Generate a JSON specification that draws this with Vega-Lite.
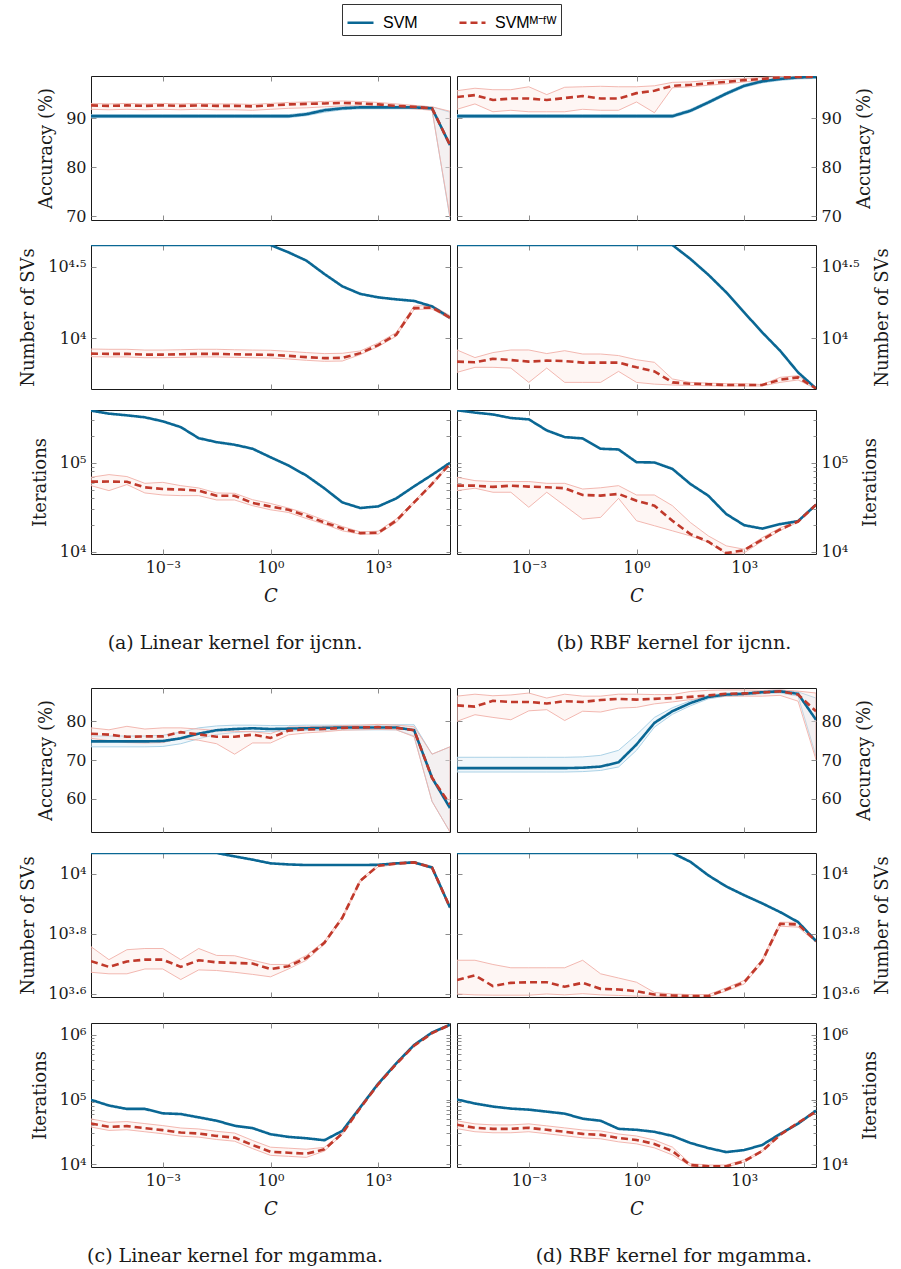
{
"$schema":"https://vega.github.io/schema/vega-lite/v6.json",
"padding":{"left":19,"top":3,"right":5,"bottom":5},
"background":"white",
"spacing":34,
"config":{
 "font":"DejaVu Serif",
 "view":{"stroke":"#1a1a1a","strokeWidth":1},
 "axis":{"domain":false,"grid":false,"tickColor":"#8c8c8c","tickWidth":1,"tickSize":-5,"labelFont":"DejaVu Serif","labelFontSize":16,"labelColor":"#1a1a1a","labelPadding":10,"titleFont":"DejaVu Serif","titleFontSize":18,"titleFontWeight":"normal","titleColor":"#1a1a1a","titlePadding":10},
 "axisX":{"titleFontStyle":"italic","titlePadding":12},
 "axisRight":{"titlePadding":14},
 "title":{"font":"DejaVu Serif","fontSize":19,"fontWeight":"normal","color":"#1a1a1a","anchor":"middle"},
 "legend":{"strokeColor":"#333","padding":4,"symbolType":"stroke","symbolSize":676,"symbolStrokeWidth":2.6,"labelFont":"Liberation Sans","labelFontSize":16,"labelColor":"#000","columnPadding":36,"labelOffset":8,"fillColor":"white"}
},
"datasets":{
"a_acc":[
{"C":1e-5,"sv":90.4,"sl":90.1,"sh":90.7,"fv":92.6,"fl":91.8,"fh":93.0},
{"C":3.1623e-5,"sv":90.4,"sl":90.1,"sh":90.7,"fv":92.5,"fl":91.7,"fh":92.9},
{"C":1e-4,"sv":90.4,"sl":90.1,"sh":90.7,"fv":92.6,"fl":91.8,"fh":93.0},
{"C":3.1623e-4,"sv":90.4,"sl":90.1,"sh":90.7,"fv":92.5,"fl":91.7,"fh":92.9},
{"C":0.001,"sv":90.4,"sl":90.1,"sh":90.7,"fv":92.6,"fl":91.8,"fh":93.0},
{"C":0.0031623,"sv":90.4,"sl":90.1,"sh":90.7,"fv":92.5,"fl":91.7,"fh":92.9},
{"C":0.01,"sv":90.4,"sl":90.1,"sh":90.7,"fv":92.6,"fl":91.8,"fh":93.0},
{"C":0.031623,"sv":90.4,"sl":90.1,"sh":90.7,"fv":92.5,"fl":91.7,"fh":92.9},
{"C":0.1,"sv":90.4,"sl":90.1,"sh":90.7,"fv":92.5,"fl":91.7,"fh":92.9},
{"C":0.31623,"sv":90.4,"sl":90.1,"sh":90.7,"fv":92.4,"fl":91.6,"fh":92.8},
{"C":1,"sv":90.4,"sl":90.1,"sh":90.7,"fv":92.6,"fl":91.8,"fh":93.0},
{"C":3.1623,"sv":90.4,"sl":90.1,"sh":90.7,"fv":92.8,"fl":92.0,"fh":93.2},
{"C":10,"sv":90.8,"sl":90.5,"sh":91.1,"fv":92.9,"fl":92.1,"fh":93.3},
{"C":31.623,"sv":91.6,"sl":91.2,"sh":91.9,"fv":93.0,"fl":92.3,"fh":93.4},
{"C":100,"sv":92.0,"sl":91.7,"sh":92.3,"fv":93.1,"fl":92.5,"fh":93.5},
{"C":316.23,"sv":92.2,"sl":91.9,"sh":92.5,"fv":93.0,"fl":92.5,"fh":93.4},
{"C":1000,"sv":92.2,"sl":91.9,"sh":92.5,"fv":92.8,"fl":92.4,"fh":93.2},
{"C":3162.3,"sv":92.2,"sl":91.9,"sh":92.5,"fv":92.5,"fl":92.1,"fh":92.9},
{"C":10000,"sv":92.2,"sl":91.9,"sh":92.5,"fv":92.3,"fl":91.9,"fh":92.6},
{"C":31623,"sv":92.0,"sl":91.7,"sh":92.3,"fv":92.0,"fl":91.6,"fh":92.3},
{"C":100000,"sv":84.5,"sl":69.5,"sh":91.2,"fv":84.5,"fl":69.8,"fh":91.4}],
"b_acc":[
{"C":1e-5,"sv":90.4,"sl":90.1,"sh":90.7,"fv":94.3,"fl":91.8,"fh":95.6},
{"C":3.1623e-5,"sv":90.4,"sl":90.1,"sh":90.7,"fv":94.7,"fl":92.9,"fh":96.1},
{"C":1e-4,"sv":90.4,"sl":90.1,"sh":90.7,"fv":93.7,"fl":91.3,"fh":95.8},
{"C":3.1623e-4,"sv":90.4,"sl":90.1,"sh":90.7,"fv":94.0,"fl":91.6,"fh":95.8},
{"C":0.001,"sv":90.4,"sl":90.1,"sh":90.7,"fv":94.0,"fl":91.3,"fh":96.4},
{"C":0.0031623,"sv":90.4,"sl":90.1,"sh":90.7,"fv":93.7,"fl":91.3,"fh":94.8},
{"C":0.01,"sv":90.4,"sl":90.1,"sh":90.7,"fv":94.1,"fl":91.3,"fh":96.3},
{"C":0.031623,"sv":90.4,"sl":90.1,"sh":90.7,"fv":94.5,"fl":91.8,"fh":96.4},
{"C":0.1,"sv":90.4,"sl":90.1,"sh":90.7,"fv":94.0,"fl":91.6,"fh":96.5},
{"C":0.31623,"sv":90.4,"sl":90.1,"sh":90.7,"fv":94.0,"fl":91.6,"fh":96.4},
{"C":1,"sv":90.4,"sl":90.1,"sh":90.7,"fv":95.1,"fl":93.3,"fh":96.4},
{"C":3.1623,"sv":90.4,"sl":90.1,"sh":90.7,"fv":95.6,"fl":91.1,"fh":96.6},
{"C":10,"sv":90.4,"sl":90.1,"sh":90.7,"fv":96.6,"fl":96.2,"fh":97.3},
{"C":31.623,"sv":91.5,"sl":91.2,"sh":91.8,"fv":96.8,"fl":96.4,"fh":97.4},
{"C":100,"sv":93.2,"sl":92.9,"sh":93.5,"fv":97.1,"fl":96.7,"fh":97.7},
{"C":316.23,"sv":95.0,"sl":94.7,"sh":95.3,"fv":97.4,"fl":97.0,"fh":97.9},
{"C":1000,"sv":96.6,"sl":96.3,"sh":96.9,"fv":97.75,"fl":97.4,"fh":98.1},
{"C":3162.3,"sv":97.5,"sl":97.2,"sh":97.8,"fv":98.0,"fl":97.7,"fh":98.3},
{"C":10000,"sv":98.0,"sl":97.7,"sh":98.3,"fv":98.3,"fl":98.1,"fh":98.5},
{"C":31623,"sv":98.3,"sl":98.0,"sh":98.6,"fv":98.4,"fl":98.2,"fh":98.6},
{"C":100000,"sv":98.4,"sl":98.1,"sh":98.7,"fv":98.45,"fl":98.3,"fh":98.6}],
"a_sv":[
{"C":1e-5,"sv":44770,"fv":7834,"fl":7450,"fh":8430},
{"C":3.1623e-5,"sv":44770,"fv":7798,"fl":7420,"fh":8390},
{"C":1e-4,"sv":44770,"fv":7798,"fl":7420,"fh":8390},
{"C":3.1623e-4,"sv":44770,"fv":7709,"fl":7330,"fh":8290},
{"C":0.001,"sv":44770,"fv":7709,"fl":7330,"fh":8290},
{"C":0.0031623,"sv":44770,"fv":7745,"fl":7370,"fh":8330},
{"C":0.01,"sv":44770,"fv":7798,"fl":7420,"fh":8390},
{"C":0.031623,"sv":44770,"fv":7798,"fl":7420,"fh":8390},
{"C":0.1,"sv":44770,"fv":7745,"fl":7370,"fh":8330},
{"C":0.31623,"sv":44770,"fv":7709,"fl":7330,"fh":8290},
{"C":1,"sv":44770,"fv":7674,"fl":7300,"fh":8260},
{"C":3.1623,"sv":39810,"fv":7551,"fl":7180,"fh":8120},
{"C":10,"sv":34830,"fv":7396,"fl":7030,"fh":7960},
{"C":31.623,"sv":28120,"fv":7278,"fl":6920,"fh":7830},
{"C":100,"sv":23070,"fv":7311,"fl":6950,"fh":7870},
{"C":316.23,"sv":20420,"fv":7889,"fl":7710,"fh":8170},
{"C":1000,"sv":19320,"fv":8974,"fl":8770,"fh":9290},
{"C":3162.3,"sv":18710,"fv":10593,"fl":10350,"fh":10960},
{"C":10000,"sv":18240,"fv":16255,"fl":15880,"fh":16820},
{"C":31623,"sv":16710,"fv":16406,"fl":16030,"fh":16980},
{"C":100000,"sv":13930,"fv":13930,"fl":13610,"fh":14420}],
"b_sv":[
{"C":1e-5,"sv":44770,"fv":6887,"fl":5794,"fh":8299},
{"C":3.1623e-5,"sv":44770,"fv":6808,"fl":6281,"fh":7345},
{"C":1e-4,"sv":44770,"fv":7211,"fl":6281,"fh":7962},
{"C":3.1623e-4,"sv":44770,"fv":7063,"fl":6209,"fh":8299},
{"C":0.001,"sv":44770,"fv":6887,"fl":4932,"fh":8299},
{"C":0.0031623,"sv":44770,"fv":6998,"fl":6209,"fh":7834},
{"C":0.01,"sv":44770,"fv":6950,"fl":4932,"fh":8204},
{"C":0.031623,"sv":44770,"fv":6776,"fl":4932,"fh":7780},
{"C":0.1,"sv":44770,"fv":6776,"fl":4932,"fh":7780},
{"C":0.31623,"sv":44770,"fv":6776,"fl":5888,"fh":7586},
{"C":1,"sv":44770,"fv":6281,"fl":4932,"fh":7096},
{"C":3.1623,"sv":44770,"fv":5888,"fl":4797,"fh":6808},
{"C":10,"sv":44770,"fv":4932,"fl":4732,"fh":5212},
{"C":31.623,"sv":35810,"fv":4831,"fl":4699,"fh":4932},
{"C":100,"sv":27790,"fv":4786,"fl":4677,"fh":4875},
{"C":316.23,"sv":20940,"fv":4732,"fl":4656,"fh":4831},
{"C":1000,"sv":15170,"fv":4732,"fl":4656,"fh":4831},
{"C":3162.3,"sv":11020,"fv":4732,"fl":4656,"fh":4764},
{"C":10000,"sv":8204,"fv":5152,"fl":4932,"fh":5346},
{"C":31623,"sv":5794,"fv":5346,"fl":5129,"fh":5495},
{"C":100000,"sv":4477,"fv":4477,"fl":4446,"fh":4529}],
"a_it":[
{"C":1e-5,"sv":385500,"fv":61520,"fl":55460,"fh":68870},
{"C":3.1623e-5,"sv":356500,"fv":61660,"fl":48750,"fh":73790},
{"C":1e-4,"sv":341200,"fv":61240,"fl":57020,"fh":70150},
{"C":3.1623e-4,"sv":324300,"fv":53090,"fl":45920,"fh":58880},
{"C":0.001,"sv":292400,"fv":50930,"fl":43550,"fh":60390},
{"C":0.0031623,"sv":251800,"fv":50120,"fl":42850,"fh":55460},
{"C":0.01,"sv":189200,"fv":48750,"fl":42850,"fh":52240},
{"C":0.031623,"sv":170600,"fv":42760,"fl":38280,"fh":45920},
{"C":0.1,"sv":159600,"fv":42760,"fl":38280,"fh":45500},
{"C":0.31623,"sv":143900,"fv":35400,"fl":33040,"fh":38550},
{"C":1,"sv":115600,"fv":32430,"fl":29720,"fh":34990},
{"C":3.1623,"sv":93330,"fv":29720,"fl":27730,"fh":31050},
{"C":10,"sv":71940,"fv":25470,"fl":23710,"fh":27040},
{"C":31.623,"sv":51760,"fv":21380,"fl":20510,"fh":22750},
{"C":100,"sv":35970,"fv":18320,"fl":17260,"fh":19280},
{"C":316.23,"sv":31120,"fv":16260,"fl":15850,"fh":16790},
{"C":1000,"sv":32430,"fv":16410,"fl":15850,"fh":17100},
{"C":3162.3,"sv":39810,"fv":22390,"fl":21380,"fh":23440},
{"C":10000,"sv":54450,"fv":35970,"fl":35080,"fh":37150},
{"C":31623,"sv":73280,"fv":57940,"fl":56230,"fh":59570},
{"C":100000,"sv":100000,"fv":97720,"fl":95500,"fh":100000}],
"b_it":[
{"C":1e-5,"sv":389000,"fv":55460,"fl":48750,"fh":68870},
{"C":3.1623e-5,"sv":366400,"fv":55460,"fl":51880,"fh":63100},
{"C":1e-4,"sv":349100,"fv":53700,"fl":46770,"fh":61660},
{"C":3.1623e-4,"sv":318400,"fv":55460,"fl":46770,"fh":61660},
{"C":0.001,"sv":307600,"fv":54080,"fl":31700,"fh":61660},
{"C":0.0031623,"sv":231200,"fv":53210,"fl":46770,"fh":58880},
{"C":0.01,"sv":194500,"fv":51880,"fl":33040,"fh":58880},
{"C":0.031623,"sv":187900,"fv":43550,"fl":23390,"fh":50820},
{"C":0.1,"sv":143900,"fv":42850,"fl":24430,"fh":52480},
{"C":0.31623,"sv":141300,"fv":44770,"fl":39900,"fh":55460},
{"C":1,"sv":101600,"fv":37580,"fl":22390,"fh":43550},
{"C":3.1623,"sv":100900,"fv":33040,"fl":19680,"fh":43550},
{"C":10,"sv":85510,"fv":22390,"fl":17260,"fh":33040},
{"C":31.623,"sv":57940,"fv":15850,"fl":15140,"fh":21430},
{"C":100,"sv":42760,"fv":13030,"fl":12880,"fh":15140},
{"C":316.23,"sv":26610,"fv":9700,"fl":9550,"fh":11700},
{"C":1000,"sv":19950,"fv":10470,"fl":9772,"fh":10720},
{"C":3162.3,"sv":18280,"fv":13770,"fl":13180,"fh":14450},
{"C":10000,"sv":20510,"fv":17860,"fl":17380,"fh":18620},
{"C":31623,"sv":22180,"fv":21930,"fl":21630,"fh":22390},
{"C":100000,"sv":33880,"fv":33880,"fl":33110,"fh":34670}],
"c_acc":[
{"C":1e-5,"sv":74.8,"sl":73.4,"sh":76.2,"fv":76.8,"fl":75.6,"fh":78.3},
{"C":3.1623e-5,"sv":74.8,"sl":73.4,"sh":76.2,"fv":76.55,"fl":75.0,"fh":77.8},
{"C":1e-4,"sv":74.8,"sl":73.4,"sh":76.2,"fv":76.0,"fl":74.5,"fh":78.7},
{"C":3.1623e-4,"sv":74.8,"sl":73.4,"sh":76.2,"fv":76.1,"fl":74.4,"fh":78.0},
{"C":0.001,"sv":74.9,"sl":73.5,"sh":76.4,"fv":76.1,"fl":74.5,"fh":78.3},
{"C":0.0031623,"sv":75.6,"sl":74.2,"sh":77.2,"fv":77.2,"fl":75.6,"fh":78.3},
{"C":0.01,"sv":76.8,"sl":75.5,"sh":78.3,"fv":76.6,"fl":75.1,"fh":78.0},
{"C":0.031623,"sv":77.7,"sl":76.6,"sh":78.8,"fv":76.0,"fl":74.2,"fh":77.6},
{"C":0.1,"sv":78.0,"sl":77.1,"sh":79.0,"fv":76.0,"fl":71.5,"fh":77.4},
{"C":0.31623,"sv":78.2,"sl":77.4,"sh":79.0,"fv":76.55,"fl":74.4,"fh":77.3},
{"C":1,"sv":78.0,"sl":77.3,"sh":78.9,"fv":75.7,"fl":74.4,"fh":76.8},
{"C":3.1623,"sv":78.1,"sl":77.5,"sh":78.9,"fv":77.6,"fl":76.5,"fh":78.5},
{"C":10,"sv":78.2,"sl":77.6,"sh":79.0,"fv":77.9,"fl":77.0,"fh":78.6},
{"C":31.623,"sv":78.3,"sl":77.7,"sh":79.0,"fv":78.0,"fl":77.3,"fh":78.7},
{"C":100,"sv":78.4,"sl":77.8,"sh":79.0,"fv":78.3,"fl":77.7,"fh":78.9},
{"C":316.23,"sv":78.4,"sl":77.8,"sh":79.0,"fv":78.4,"fl":77.8,"fh":79.0},
{"C":1000,"sv":78.4,"sl":77.8,"sh":79.0,"fv":78.5,"fl":77.9,"fh":79.2},
{"C":3162.3,"sv":78.4,"sl":77.8,"sh":79.1,"fv":78.3,"fl":77.8,"fh":79.0},
{"C":10000,"sv":77.7,"sl":76.2,"sh":79.1,"fv":77.7,"fl":76.0,"fh":78.6},
{"C":31623,"sv":65.4,"sl":59.3,"sh":71.5,"fv":65.4,"fl":59.3,"fh":71.5},
{"C":100000,"sv":57.6,"sl":51.4,"sh":73.4,"fv":58.5,"fl":51.4,"fh":73.4}],
"d_acc":[
{"C":1e-5,"sv":67.9,"sl":66.9,"sh":70.7,"fv":84.1,"fl":80.0,"fh":86.5},
{"C":3.1623e-5,"sv":67.9,"sl":66.9,"sh":70.7,"fv":83.8,"fl":81.7,"fh":87.0},
{"C":1e-4,"sv":67.9,"sl":66.9,"sh":70.7,"fv":85.3,"fl":81.0,"fh":86.6},
{"C":3.1623e-4,"sv":67.9,"sl":66.9,"sh":70.7,"fv":85.0,"fl":80.4,"fh":86.8},
{"C":0.001,"sv":67.9,"sl":66.9,"sh":70.7,"fv":85.0,"fl":82.7,"fh":87.3},
{"C":0.0031623,"sv":67.9,"sl":66.9,"sh":70.7,"fv":84.6,"fl":83.0,"fh":86.0},
{"C":0.01,"sv":67.9,"sl":66.9,"sh":70.7,"fv":85.2,"fl":80.2,"fh":87.0},
{"C":0.031623,"sv":68.0,"sl":67.0,"sh":70.8,"fv":85.0,"fl":82.6,"fh":86.5},
{"C":0.1,"sv":68.3,"sl":67.3,"sh":71.2,"fv":85.5,"fl":82.4,"fh":86.5},
{"C":0.31623,"sv":69.4,"sl":68.2,"sh":72.5,"fv":85.8,"fl":83.4,"fh":87.0},
{"C":1,"sv":74.0,"sl":72.5,"sh":76.5,"fv":85.6,"fl":83.6,"fh":87.0},
{"C":3.1623,"sv":79.6,"sl":78.5,"sh":81.0,"fv":85.8,"fl":84.5,"fh":86.9},
{"C":10,"sv":82.6,"sl":81.8,"sh":83.5,"fv":86.0,"fl":85.0,"fh":86.9},
{"C":31.623,"sv":84.7,"sl":84.0,"sh":85.3,"fv":86.3,"fl":85.6,"fh":87.7},
{"C":100,"sv":86.3,"sl":85.8,"sh":86.7,"fv":86.7,"fl":86.2,"fh":88.0},
{"C":316.23,"sv":86.9,"sl":86.5,"sh":87.3,"fv":87.1,"fl":86.5,"fh":88.1},
{"C":1000,"sv":87.1,"sl":86.7,"sh":87.5,"fv":87.2,"fl":86.5,"fh":88.1},
{"C":3162.3,"sv":87.5,"sl":87.1,"sh":87.9,"fv":87.4,"fl":86.5,"fh":88.0},
{"C":10000,"sv":87.75,"sl":87.3,"sh":88.1,"fv":87.75,"fl":86.7,"fh":88.1},
{"C":31623,"sv":87.1,"sl":86.5,"sh":87.6,"fv":86.9,"fl":85.2,"fh":87.8},
{"C":100000,"sv":80.4,"sl":71.0,"sh":86.0,"fv":82.6,"fl":70.1,"fh":87.3}],
"c_sv":[
{"C":1e-5,"sv":11700,"fv":5117,"fl":4699,"fh":5715},
{"C":3.1623e-5,"sv":11700,"fv":4898,"fl":4645,"fh":5176},
{"C":1e-4,"sv":11700,"fv":5105,"fl":4645,"fh":5585},
{"C":3.1623e-4,"sv":11700,"fv":5176,"fl":4819,"fh":5636},
{"C":0.001,"sv":11700,"fv":5176,"fl":4819,"fh":5636},
{"C":0.0031623,"sv":11700,"fv":4898,"fl":4446,"fh":5176},
{"C":0.01,"sv":11700,"fv":5152,"fl":4786,"fh":5636},
{"C":0.031623,"sv":11700,"fv":5070,"fl":4764,"fh":5346},
{"C":0.1,"sv":11400,"fv":5047,"fl":4699,"fh":5333},
{"C":0.31623,"sv":11120,"fv":5023,"fl":4624,"fh":5152},
{"C":1,"sv":10810,"fv":4819,"fl":4539,"fh":4989},
{"C":3.1623,"sv":10720,"fv":4920,"fl":4819,"fh":4989},
{"C":10,"sv":10670,"fv":5248,"fl":5152,"fh":5346},
{"C":31.623,"sv":10670,"fv":5888,"fl":5821,"fh":5957},
{"C":100,"sv":10670,"fv":7129,"fl":7047,"fh":7211},
{"C":316.23,"sv":10670,"fv":9462,"fl":9376,"fh":9550},
{"C":1000,"sv":10690,"fv":10620,"fl":10520,"fh":10720},
{"C":3162.3,"sv":10810,"fv":10790,"fl":10720,"fh":10860},
{"C":10000,"sv":10890,"fv":10890,"fl":10810,"fh":10960},
{"C":31623,"sv":10470,"fv":10470,"fl":10380,"fh":10570},
{"C":100000,"sv":7709,"fv":7709,"fl":7656,"fh":7762}],
"d_sv":[
{"C":1e-5,"sv":11700,"fv":4426,"fl":3981,"fh":5152},
{"C":3.1623e-5,"sv":11700,"fv":4592,"fl":3954,"fh":5152},
{"C":1e-4,"sv":11700,"fv":4227,"fl":3945,"fh":4989},
{"C":3.1623e-4,"sv":11700,"fv":4335,"fl":3945,"fh":4864},
{"C":0.001,"sv":11700,"fv":4355,"fl":3945,"fh":4864},
{"C":0.0031623,"sv":11700,"fv":4355,"fl":3981,"fh":4864},
{"C":0.01,"sv":11700,"fv":4207,"fl":3954,"fh":4864},
{"C":0.031623,"sv":11700,"fv":4335,"fl":3990,"fh":5152},
{"C":0.1,"sv":11700,"fv":4140,"fl":3954,"fh":4645},
{"C":0.31623,"sv":11700,"fv":4121,"fl":3936,"fh":4498},
{"C":1,"sv":11700,"fv":4064,"fl":3917,"fh":4355},
{"C":3.1623,"sv":11700,"fv":3963,"fl":3917,"fh":4027},
{"C":10,"sv":11700,"fv":3936,"fl":3899,"fh":3981},
{"C":31.623,"sv":10940,"fv":3917,"fl":3890,"fh":3963},
{"C":100,"sv":9863,"fv":3917,"fl":3890,"fh":3963},
{"C":316.23,"sv":9057,"fv":4121,"fl":4074,"fh":4169},
{"C":1000,"sv":8472,"fv":4355,"fl":4295,"fh":4416},
{"C":3162.3,"sv":7962,"fv":5117,"fl":5047,"fh":5188},
{"C":10000,"sv":7447,"fv":6808,"fl":6683,"fh":6887},
{"C":31623,"sv":6902,"fv":6776,"fl":6637,"fh":6887},
{"C":100000,"sv":5970,"fv":5970,"fl":5916,"fh":6026}],
"c_it":[
{"C":1e-5,"sv":98860,"fv":42760,"fl":37630,"fh":50240},
{"C":3.1623e-5,"sv":80720,"fv":37930,"fl":33380,"fh":44570},
{"C":1e-4,"sv":71610,"fv":38900,"fl":34230,"fh":45710},
{"C":3.1623e-4,"sv":71610,"fv":36220,"fl":31870,"fh":42560},
{"C":0.001,"sv":61240,"fv":33730,"fl":29680,"fh":39630},
{"C":0.0031623,"sv":59700,"fv":30970,"fl":27250,"fh":36390},
{"C":0.01,"sv":53090,"fv":29920,"fl":26330,"fh":35160},
{"C":0.031623,"sv":47100,"fv":27480,"fl":24180,"fh":32290},
{"C":0.1,"sv":39360,"fv":25880,"fl":22770,"fh":30410},
{"C":0.31623,"sv":36220,"fv":19910,"fl":17520,"fh":23390},
{"C":1,"sv":29170,"fv":15670,"fl":13790,"fh":18410},
{"C":3.1623,"sv":26550,"fv":15140,"fl":13320,"fh":17790},
{"C":10,"sv":25290,"fv":14590,"fl":12840,"fh":17140},
{"C":31.623,"sv":23550,"fv":17060,"fl":16040,"fh":18290},
{"C":100,"sv":32890,"fv":29920,"fl":29020,"fh":30970},
{"C":316.23,"sv":75860,"fv":74130,"fl":71910,"fh":76720},
{"C":1000,"sv":175400,"fv":171400,"fl":166300,"fh":177400},
{"C":3162.3,"sv":359700,"fv":350800,"fl":340300,"fh":363100},
{"C":10000,"sv":693400,"fv":676100,"fl":655800,"fh":699800},
{"C":31623,"sv":1079000,"fv":1054000,"fl":1022000,"fh":1091000},
{"C":100000,"sv":1419000,"fv":1419000,"fl":1376000,"fh":1469000}],
"d_it":[
{"C":1e-5,"sv":100000,"fv":40830,"fl":35520,"fh":46950},
{"C":3.1623e-5,"sv":86700,"fv":36640,"fl":31880,"fh":42140},
{"C":1e-4,"sv":77800,"fv":35320,"fl":30730,"fh":40620},
{"C":3.1623e-4,"sv":72440,"fv":35320,"fl":30730,"fh":40620},
{"C":0.001,"sv":69820,"fv":36640,"fl":31880,"fh":42140},
{"C":0.0031623,"sv":65010,"fv":34120,"fl":29680,"fh":39240},
{"C":0.01,"sv":60530,"fv":31770,"fl":27640,"fh":36540},
{"C":0.031623,"sv":50580,"fv":29510,"fl":25670,"fh":33940},
{"C":0.1,"sv":47100,"fv":28510,"fl":24800,"fh":32790},
{"C":0.31623,"sv":35320,"fv":25590,"fl":22260,"fh":29430},
{"C":1,"sv":34120,"fv":23820,"fl":20720,"fh":27390},
{"C":3.1623,"sv":31770,"fv":20650,"fl":17970,"fh":23750},
{"C":10,"sv":27480,"fv":16070,"fl":13980,"fh":18480},
{"C":31.623,"sv":21380,"fv":9772,"fl":9479,"fh":10260},
{"C":100,"sv":17860,"fv":9333,"fl":9053,"fh":9800},
{"C":316.23,"sv":15490,"fv":9333,"fl":9053,"fh":9800},
{"C":1000,"sv":16630,"fv":11220,"fl":10880,"fh":11780},
{"C":3162.3,"sv":19910,"fv":16070,"fl":15590,"fh":16550},
{"C":10000,"sv":29510,"fv":28510,"fl":27650,"fh":29370},
{"C":31623,"sv":42270,"fv":43850,"fl":42530,"fh":45170},
{"C":100000,"sv":67450,"fv":65010,"fl":63060,"fh":66960}]
},
"vconcat":[
{"hconcat":[
 {"vconcat":[
  {"height":144,"width":359,"data":{"name":"a_acc"},"layer":[
   {"mark":{"type":"area","clip":true,"fill":"#cfe6f2","fillOpacity":0.3,"stroke":"#a3cde3","strokeWidth":0.9},"encoding":{"x":{"field":"C","type":"quantitative","axis":null},"y":{"field":"sl","type":"quantitative","axis":null},"y2":{"field":"sh"}}},
   {"mark":{"type":"area","clip":true,"fill":"#fbe0dc","fillOpacity":0.3,"stroke":"#f1b0a8","strokeWidth":0.9},"encoding":{"x":{"field":"C","type":"quantitative","axis":null},"y":{"field":"fl","type":"quantitative","axis":null},"y2":{"field":"fh"}}},
   {"mark":{"type":"line","clip":true,"strokeWidth":2.6},"encoding":{
     "x":{"field":"C","type":"quantitative","scale":{"type":"log","domain":[1e-5,1e5],"nice":false},"axis":{"orient":"bottom","values":[0.001,1,1000],"labels":false,"title":null}},
     "y":{"field":"sv","type":"quantitative","scale":{"domain":[69.2,98.6],"nice":false,"zero":false},"axis":{"orient":"left","values":[70,80,90],"title":"Accuracy (%)"}},
     "color":{"datum":"SVM","scale":{"domain":["SVM","SVMᴹ⁻ᶠᵂ"],"range":["#0a6794","#c0392b"]},"legend":{"title":null,"orient":"none","legendX":251,"legendY":-72,"direction":"horizontal"}},
     "strokeDash":{"datum":"SVM","scale":{"domain":["SVM","SVMᴹ⁻ᶠᵂ"],"range":[[1,0],[7,4]]},"legend":{"title":null,"orient":"none","legendX":251,"legendY":-72,"direction":"horizontal"}}}},
   {"mark":{"type":"line","clip":true,"strokeWidth":2.6},"encoding":{
     "x":{"field":"C","type":"quantitative","axis":{"orient":"top","values":[0.001,1,1000],"labels":false,"title":null}},
     "y":{"field":"fv","type":"quantitative","axis":{"orient":"right","values":[70,80,90],"labels":false,"title":null}},
     "color":{"datum":"SVMᴹ⁻ᶠᵂ"},"strokeDash":{"datum":"SVMᴹ⁻ᶠᵂ"}}}
  ]},
  {"height":144,"width":359,"data":{"name":"a_sv"},"layer":[
   {"mark":{"type":"area","clip":true,"fill":"#fbe0dc","fillOpacity":0.3,"stroke":"#f1b0a8","strokeWidth":0.9},"encoding":{"x":{"field":"C","type":"quantitative","axis":null},"y":{"field":"fl","type":"quantitative","axis":null},"y2":{"field":"fh"}}},
   {"mark":{"type":"line","clip":true,"strokeWidth":2.6},"encoding":{
     "x":{"field":"C","type":"quantitative","scale":{"type":"log","domain":[1e-5,1e5],"nice":false},"axis":{"orient":"bottom","values":[0.001,1,1000],"labels":false,"title":null}},
     "y":{"field":"sv","type":"quantitative","scale":{"type":"log","domain":[4436,44770],"nice":false},"axis":{"orient":"left","values":[10000,31622.8],"labelExpr":"datum.value < 20000 ? '10⁴' : '10⁴·⁵'","title":"Number of SVs"}},
     "color":{"datum":"SVM"},"strokeDash":{"datum":"SVM"}}},
   {"mark":{"type":"line","clip":true,"strokeWidth":2.6},"encoding":{
     "x":{"field":"C","type":"quantitative","axis":{"orient":"top","values":[0.001,1,1000],"labels":false,"title":null}},
     "y":{"field":"fv","type":"quantitative","axis":{"orient":"right","values":[10000,31622.8],"labels":false,"title":null}},
     "color":{"datum":"SVMᴹ⁻ᶠᵂ"},"strokeDash":{"datum":"SVMᴹ⁻ᶠᵂ"}}}
  ]},
  {"height":144,"width":359,"data":{"name":"a_it"},"layer":[
   {"mark":{"type":"area","clip":true,"fill":"#fbe0dc","fillOpacity":0.3,"stroke":"#f1b0a8","strokeWidth":0.9},"encoding":{"x":{"field":"C","type":"quantitative","axis":null},"y":{"field":"fl","type":"quantitative","axis":{"orient":"left","values":[20000,30000,40000,50000,60000,70000,80000,90000,200000,300000],"labels":false,"title":null,"tickSize":-3}},"y2":{"field":"fh"}}},
   {"mark":{"type":"line","clip":true,"strokeWidth":2.6},"encoding":{
     "x":{"field":"C","type":"quantitative","scale":{"type":"log","domain":[1e-5,1e5],"nice":false},"axis":{"orient":"bottom","values":[0.001,1,1000],"labelExpr":"datum.value < 0.01 ? '10⁻³' : datum.value < 10 ? '10⁰' : '10³'","title":"C"}},
     "y":{"field":"sv","type":"quantitative","scale":{"type":"log","domain":[9480,391700],"nice":false},"axis":{"orient":"left","values":[10000,100000],"labelExpr":"datum.value < 50000 ? '10⁴' : '10⁵'","title":"Iterations"}},
     "color":{"datum":"SVM"},"strokeDash":{"datum":"SVM"}}},
   {"mark":{"type":"line","clip":true,"strokeWidth":2.6},"encoding":{
     "x":{"field":"C","type":"quantitative","axis":{"orient":"top","values":[0.001,1,1000],"labels":false,"title":null}},
     "y":{"field":"fv","type":"quantitative","axis":{"orient":"right","values":[10000,20000,30000,40000,50000,60000,70000,80000,90000,100000,200000,300000],"labels":false,"title":null,"tickSize":-4}},
     "color":{"datum":"SVMᴹ⁻ᶠᵂ"},"strokeDash":{"datum":"SVMᴹ⁻ᶠᵂ"}}}
  ]}
 ],"spacing":19,"title":{"text":"(a)  Linear kernel for ijcnn.","orient":"bottom","offset":28}},
 {"vconcat":[
  {"height":144,"width":359,"data":{"name":"b_acc"},"layer":[
   {"mark":{"type":"area","clip":true,"fill":"#cfe6f2","fillOpacity":0.3,"stroke":"#a3cde3","strokeWidth":0.9},"encoding":{"x":{"field":"C","type":"quantitative","axis":null},"y":{"field":"sl","type":"quantitative","axis":null},"y2":{"field":"sh"}}},
   {"mark":{"type":"area","clip":true,"fill":"#fbe0dc","fillOpacity":0.3,"stroke":"#f1b0a8","strokeWidth":0.9},"encoding":{"x":{"field":"C","type":"quantitative","axis":null},"y":{"field":"fl","type":"quantitative","axis":null},"y2":{"field":"fh"}}},
   {"mark":{"type":"line","clip":true,"strokeWidth":2.6},"encoding":{
     "x":{"field":"C","type":"quantitative","scale":{"type":"log","domain":[1e-5,1e5],"nice":false},"axis":{"orient":"bottom","values":[0.001,1,1000],"labels":false,"title":null}},
     "y":{"field":"sv","type":"quantitative","scale":{"domain":[69.2,98.6],"nice":false,"zero":false},"axis":{"orient":"right","values":[70,80,90],"title":"Accuracy (%)","titleAngle":270,"titleBaseline":"top"}},
     "color":{"datum":"SVM"},"strokeDash":{"datum":"SVM"}}},
   {"mark":{"type":"line","clip":true,"strokeWidth":2.6},"encoding":{
     "x":{"field":"C","type":"quantitative","axis":{"orient":"top","values":[0.001,1,1000],"labels":false,"title":null}},
     "y":{"field":"fv","type":"quantitative","axis":{"orient":"left","values":[70,80,90],"labels":false,"title":null}},
     "color":{"datum":"SVMᴹ⁻ᶠᵂ"},"strokeDash":{"datum":"SVMᴹ⁻ᶠᵂ"}}}
  ]},
  {"height":144,"width":359,"data":{"name":"b_sv"},"layer":[
   {"mark":{"type":"area","clip":true,"fill":"#fbe0dc","fillOpacity":0.3,"stroke":"#f1b0a8","strokeWidth":0.9},"encoding":{"x":{"field":"C","type":"quantitative","axis":null},"y":{"field":"fl","type":"quantitative","axis":null},"y2":{"field":"fh"}}},
   {"mark":{"type":"line","clip":true,"strokeWidth":2.6},"encoding":{
     "x":{"field":"C","type":"quantitative","scale":{"type":"log","domain":[1e-5,1e5],"nice":false},"axis":{"orient":"bottom","values":[0.001,1,1000],"labels":false,"title":null}},
     "y":{"field":"sv","type":"quantitative","scale":{"type":"log","domain":[4436,44770],"nice":false},"axis":{"orient":"right","values":[10000,31622.8],"labelExpr":"datum.value < 20000 ? '10⁴' : '10⁴·⁵'","title":"Number of SVs","titleAngle":270,"titleBaseline":"top"}},
     "color":{"datum":"SVM"},"strokeDash":{"datum":"SVM"}}},
   {"mark":{"type":"line","clip":true,"strokeWidth":2.6},"encoding":{
     "x":{"field":"C","type":"quantitative","axis":{"orient":"top","values":[0.001,1,1000],"labels":false,"title":null}},
     "y":{"field":"fv","type":"quantitative","axis":{"orient":"left","values":[10000,31622.8],"labels":false,"title":null}},
     "color":{"datum":"SVMᴹ⁻ᶠᵂ"},"strokeDash":{"datum":"SVMᴹ⁻ᶠᵂ"}}}
  ]},
  {"height":144,"width":359,"data":{"name":"b_it"},"layer":[
   {"mark":{"type":"area","clip":true,"fill":"#fbe0dc","fillOpacity":0.3,"stroke":"#f1b0a8","strokeWidth":0.9},"encoding":{"x":{"field":"C","type":"quantitative","axis":null},"y":{"field":"fl","type":"quantitative","axis":{"orient":"right","values":[20000,30000,40000,50000,60000,70000,80000,90000,200000,300000],"labels":false,"title":null,"tickSize":-3}},"y2":{"field":"fh"}}},
   {"mark":{"type":"line","clip":true,"strokeWidth":2.6},"encoding":{
     "x":{"field":"C","type":"quantitative","scale":{"type":"log","domain":[1e-5,1e5],"nice":false},"axis":{"orient":"bottom","values":[0.001,1,1000],"labelExpr":"datum.value < 0.01 ? '10⁻³' : datum.value < 10 ? '10⁰' : '10³'","title":"C"}},
     "y":{"field":"sv","type":"quantitative","scale":{"type":"log","domain":[9480,391700],"nice":false},"axis":{"orient":"right","values":[10000,100000],"labelExpr":"datum.value < 50000 ? '10⁴' : '10⁵'","title":"Iterations","titleAngle":270,"titleBaseline":"top"}},
     "color":{"datum":"SVM"},"strokeDash":{"datum":"SVM"}}},
   {"mark":{"type":"line","clip":true,"strokeWidth":2.6},"encoding":{
     "x":{"field":"C","type":"quantitative","axis":{"orient":"top","values":[0.001,1,1000],"labels":false,"title":null}},
     "y":{"field":"fv","type":"quantitative","axis":{"orient":"left","values":[10000,20000,30000,40000,50000,60000,70000,80000,90000,100000,200000,300000],"labels":false,"title":null,"tickSize":-4}},
     "color":{"datum":"SVMᴹ⁻ᶠᵂ"},"strokeDash":{"datum":"SVMᴹ⁻ᶠᵂ"}}}
  ]}
 ],"spacing":19,"title":{"text":"(b)  RBF kernel for ijcnn.","orient":"bottom","offset":28}}
],"spacing":5},
{"hconcat":[
 {"vconcat":[
  {"height":144,"width":359,"data":{"name":"c_acc"},"layer":[
   {"mark":{"type":"area","clip":true,"fill":"#cfe6f2","fillOpacity":0.3,"stroke":"#a3cde3","strokeWidth":0.9},"encoding":{"x":{"field":"C","type":"quantitative","axis":null},"y":{"field":"sl","type":"quantitative","axis":null},"y2":{"field":"sh"}}},
   {"mark":{"type":"area","clip":true,"fill":"#fbe0dc","fillOpacity":0.3,"stroke":"#f1b0a8","strokeWidth":0.9},"encoding":{"x":{"field":"C","type":"quantitative","axis":null},"y":{"field":"fl","type":"quantitative","axis":null},"y2":{"field":"fh"}}},
   {"mark":{"type":"line","clip":true,"strokeWidth":2.6},"encoding":{
     "x":{"field":"C","type":"quantitative","scale":{"type":"log","domain":[1e-5,1e5],"nice":false},"axis":{"orient":"bottom","values":[0.001,1,1000],"labels":false,"title":null}},
     "y":{"field":"sv","type":"quantitative","scale":{"domain":[51.4,88.6],"nice":false,"zero":false},"axis":{"orient":"left","values":[60,70,80],"title":"Accuracy (%)"}},
     "color":{"datum":"SVM"},"strokeDash":{"datum":"SVM"}}},
   {"mark":{"type":"line","clip":true,"strokeWidth":2.6},"encoding":{
     "x":{"field":"C","type":"quantitative","axis":{"orient":"top","values":[0.001,1,1000],"labels":false,"title":null}},
     "y":{"field":"fv","type":"quantitative","axis":{"orient":"right","values":[60,70,80],"labels":false,"title":null}},
     "color":{"datum":"SVMᴹ⁻ᶠᵂ"},"strokeDash":{"datum":"SVMᴹ⁻ᶠᵂ"}}}
  ]},
  {"height":144,"width":359,"data":{"name":"c_sv"},"layer":[
   {"mark":{"type":"area","clip":true,"fill":"#fbe0dc","fillOpacity":0.3,"stroke":"#f1b0a8","strokeWidth":0.9},"encoding":{"x":{"field":"C","type":"quantitative","axis":null},"y":{"field":"fl","type":"quantitative","axis":null},"y2":{"field":"fh"}}},
   {"mark":{"type":"line","clip":true,"strokeWidth":2.6},"encoding":{
     "x":{"field":"C","type":"quantitative","scale":{"type":"log","domain":[1e-5,1e5],"nice":false},"axis":{"orient":"bottom","values":[0.001,1,1000],"labels":false,"title":null}},
     "y":{"field":"sv","type":"quantitative","scale":{"type":"log","domain":[3890,11700],"nice":false},"axis":{"orient":"left","values":[3981.07,6309.57,10000],"labelExpr":"datum.value < 5000 ? '10³·⁶' : datum.value < 8000 ? '10³·⁸' : '10⁴'","title":"Number of SVs"}},
     "color":{"datum":"SVM"},"strokeDash":{"datum":"SVM"}}},
   {"mark":{"type":"line","clip":true,"strokeWidth":2.6},"encoding":{
     "x":{"field":"C","type":"quantitative","axis":{"orient":"top","values":[0.001,1,1000],"labels":false,"title":null}},
     "y":{"field":"fv","type":"quantitative","axis":{"orient":"right","values":[3981.07,6309.57,10000],"labels":false,"title":null}},
     "color":{"datum":"SVMᴹ⁻ᶠᵂ"},"strokeDash":{"datum":"SVMᴹ⁻ᶠᵂ"}}}
  ]},
  {"height":144,"width":359,"data":{"name":"c_it"},"layer":[
   {"mark":{"type":"area","clip":true,"fill":"#fbe0dc","fillOpacity":0.3,"stroke":"#f1b0a8","strokeWidth":0.9},"encoding":{"x":{"field":"C","type":"quantitative","axis":null},"y":{"field":"fl","type":"quantitative","axis":{"orient":"left","values":[20000,30000,40000,50000,60000,70000,80000,90000,200000,300000,400000,500000,600000,700000,800000,900000],"labels":false,"title":null,"tickSize":-3}},"y2":{"field":"fh"}}},
   {"mark":{"type":"line","clip":true,"strokeWidth":2.6},"encoding":{
     "x":{"field":"C","type":"quantitative","scale":{"type":"log","domain":[1e-5,1e5],"nice":false},"axis":{"orient":"bottom","values":[0.001,1,1000],"labelExpr":"datum.value < 0.01 ? '10⁻³' : datum.value < 10 ? '10⁰' : '10³'","title":"C"}},
     "y":{"field":"sv","type":"quantitative","scale":{"type":"log","domain":[9120,1510000],"nice":false},"axis":{"orient":"left","values":[10000,100000,1000000],"labelExpr":"datum.value < 50000 ? '10⁴' : datum.value < 500000 ? '10⁵' : '10⁶'","title":"Iterations"}},
     "color":{"datum":"SVM"},"strokeDash":{"datum":"SVM"}}},
   {"mark":{"type":"line","clip":true,"strokeWidth":2.6},"encoding":{
     "x":{"field":"C","type":"quantitative","axis":{"orient":"top","values":[0.001,1,1000],"labels":false,"title":null}},
     "y":{"field":"fv","type":"quantitative","axis":{"orient":"right","values":[10000,20000,30000,40000,50000,60000,70000,80000,90000,100000,200000,300000,400000,500000,600000,700000,800000,900000,1000000],"labels":false,"title":null,"tickSize":-4}},
     "color":{"datum":"SVMᴹ⁻ᶠᵂ"},"strokeDash":{"datum":"SVMᴹ⁻ᶠᵂ"}}}
  ]}
 ],"spacing":19,"title":{"text":"(c)  Linear kernel for mgamma.","orient":"bottom","offset":28}},
 {"vconcat":[
  {"height":144,"width":359,"data":{"name":"d_acc"},"layer":[
   {"mark":{"type":"area","clip":true,"fill":"#cfe6f2","fillOpacity":0.3,"stroke":"#a3cde3","strokeWidth":0.9},"encoding":{"x":{"field":"C","type":"quantitative","axis":null},"y":{"field":"sl","type":"quantitative","axis":null},"y2":{"field":"sh"}}},
   {"mark":{"type":"area","clip":true,"fill":"#fbe0dc","fillOpacity":0.3,"stroke":"#f1b0a8","strokeWidth":0.9},"encoding":{"x":{"field":"C","type":"quantitative","axis":null},"y":{"field":"fl","type":"quantitative","axis":null},"y2":{"field":"fh"}}},
   {"mark":{"type":"line","clip":true,"strokeWidth":2.6},"encoding":{
     "x":{"field":"C","type":"quantitative","scale":{"type":"log","domain":[1e-5,1e5],"nice":false},"axis":{"orient":"bottom","values":[0.001,1,1000],"labels":false,"title":null}},
     "y":{"field":"sv","type":"quantitative","scale":{"domain":[51.4,88.6],"nice":false,"zero":false},"axis":{"orient":"right","values":[60,70,80],"title":"Accuracy (%)","titleAngle":270,"titleBaseline":"top"}},
     "color":{"datum":"SVM"},"strokeDash":{"datum":"SVM"}}},
   {"mark":{"type":"line","clip":true,"strokeWidth":2.6},"encoding":{
     "x":{"field":"C","type":"quantitative","axis":{"orient":"top","values":[0.001,1,1000],"labels":false,"title":null}},
     "y":{"field":"fv","type":"quantitative","axis":{"orient":"left","values":[60,70,80],"labels":false,"title":null}},
     "color":{"datum":"SVMᴹ⁻ᶠᵂ"},"strokeDash":{"datum":"SVMᴹ⁻ᶠᵂ"}}}
  ]},
  {"height":144,"width":359,"data":{"name":"d_sv"},"layer":[
   {"mark":{"type":"area","clip":true,"fill":"#fbe0dc","fillOpacity":0.3,"stroke":"#f1b0a8","strokeWidth":0.9},"encoding":{"x":{"field":"C","type":"quantitative","axis":null},"y":{"field":"fl","type":"quantitative","axis":null},"y2":{"field":"fh"}}},
   {"mark":{"type":"line","clip":true,"strokeWidth":2.6},"encoding":{
     "x":{"field":"C","type":"quantitative","scale":{"type":"log","domain":[1e-5,1e5],"nice":false},"axis":{"orient":"bottom","values":[0.001,1,1000],"labels":false,"title":null}},
     "y":{"field":"sv","type":"quantitative","scale":{"type":"log","domain":[3890,11700],"nice":false},"axis":{"orient":"right","values":[3981.07,6309.57,10000],"labelExpr":"datum.value < 5000 ? '10³·⁶' : datum.value < 8000 ? '10³·⁸' : '10⁴'","title":"Number of SVs","titleAngle":270,"titleBaseline":"top"}},
     "color":{"datum":"SVM"},"strokeDash":{"datum":"SVM"}}},
   {"mark":{"type":"line","clip":true,"strokeWidth":2.6},"encoding":{
     "x":{"field":"C","type":"quantitative","axis":{"orient":"top","values":[0.001,1,1000],"labels":false,"title":null}},
     "y":{"field":"fv","type":"quantitative","axis":{"orient":"left","values":[3981.07,6309.57,10000],"labels":false,"title":null}},
     "color":{"datum":"SVMᴹ⁻ᶠᵂ"},"strokeDash":{"datum":"SVMᴹ⁻ᶠᵂ"}}}
  ]},
  {"height":144,"width":359,"data":{"name":"d_it"},"layer":[
   {"mark":{"type":"area","clip":true,"fill":"#fbe0dc","fillOpacity":0.3,"stroke":"#f1b0a8","strokeWidth":0.9},"encoding":{"x":{"field":"C","type":"quantitative","axis":null},"y":{"field":"fl","type":"quantitative","axis":{"orient":"right","values":[20000,30000,40000,50000,60000,70000,80000,90000,200000,300000,400000,500000,600000,700000,800000,900000],"labels":false,"title":null,"tickSize":-3}},"y2":{"field":"fh"}}},
   {"mark":{"type":"line","clip":true,"strokeWidth":2.6},"encoding":{
     "x":{"field":"C","type":"quantitative","scale":{"type":"log","domain":[1e-5,1e5],"nice":false},"axis":{"orient":"bottom","values":[0.001,1,1000],"labelExpr":"datum.value < 0.01 ? '10⁻³' : datum.value < 10 ? '10⁰' : '10³'","title":"C"}},
     "y":{"field":"sv","type":"quantitative","scale":{"type":"log","domain":[9120,1510000],"nice":false},"axis":{"orient":"right","values":[10000,100000,1000000],"labelExpr":"datum.value < 50000 ? '10⁴' : datum.value < 500000 ? '10⁵' : '10⁶'","title":"Iterations","titleAngle":270,"titleBaseline":"top"}},
     "color":{"datum":"SVM"},"strokeDash":{"datum":"SVM"}}},
   {"mark":{"type":"line","clip":true,"strokeWidth":2.6},"encoding":{
     "x":{"field":"C","type":"quantitative","axis":{"orient":"top","values":[0.001,1,1000],"labels":false,"title":null}},
     "y":{"field":"fv","type":"quantitative","axis":{"orient":"left","values":[10000,20000,30000,40000,50000,60000,70000,80000,90000,100000,200000,300000,400000,500000,600000,700000,800000,900000,1000000],"labels":false,"title":null,"tickSize":-4}},
     "color":{"datum":"SVMᴹ⁻ᶠᵂ"},"strokeDash":{"datum":"SVMᴹ⁻ᶠᵂ"}}}
  ]}
 ],"spacing":19,"title":{"text":"(d)  RBF kernel for mgamma.","orient":"bottom","offset":28}}
],"spacing":5}
]
}
